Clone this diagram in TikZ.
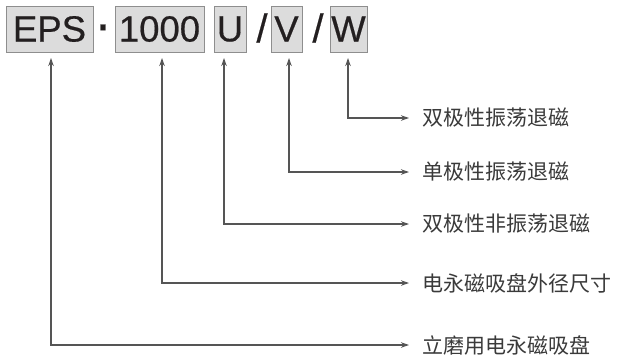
\documentclass[tikz,border=0pt]{standalone}
\usepackage{fontspec}
\setmainfont{Liberation Sans}
\newfontfamily\boxfont[FakeBold=0.5]{Liberation Sans}
\newfontfamily\cjk{Noto Sans CJK SC}
\usetikzlibrary{arrows.meta}
\definecolor{boxgray}{HTML}{DCDCDC}
\definecolor{boxedge}{HTML}{8E8E8E}
\definecolor{ink}{HTML}{231F20}
\definecolor{labelgray}{HTML}{3A3A3A}
\definecolor{linegray}{HTML}{555555}
\begin{document}
\begin{tikzpicture}[x=1pt,y=-1pt,>={Stealth[length=8pt,width=5.5pt]},
  box/.style={draw=boxedge,fill=boxgray,line width=0.9pt,inner sep=0pt,minimum height=46pt,text=ink,font=\boxfont\fontsize{36.5}{36.5}\selectfont},
  sep/.style={inner sep=0pt,text=ink,font=\boxfont\fontsize{40}{40}\selectfont},
  lbl/.style={anchor=west,inner sep=0pt,text=labelgray,font=\cjk\fontsize{21}{21}\selectfont},
  lead/.style={draw=linegray,line width=1.1pt,<->,shorten >=13pt}]
\useasboundingbox(0,0)rectangle(617,360);
% the model code
\node[box,minimum width=87pt](eps)at(49.5,29){EPS};
\node[sep,font=\boxfont\fontsize{52}{52}\selectfont](dot)at(103,33){·};
\node[box,minimum width=89pt](size)at(159.5,29){1000};
\node[box,minimum width=32pt](u)at(230,29){U};
\node[sep](s1)at(262,28){/};
\node[box,minimum width=31pt](v)at(286.5,29){V};
\node[sep](s2)at(318,28){/};
\node[box,minimum width=37pt](w)at(348.5,29){W};
% what each part means
\node[lbl](lW)at(422,118){双极性振荡退磁};
\node[lbl](lV)at(422,172){单极性振荡退磁};
\node[lbl](lU)at(422,224){双极性非振荡退磁};
\node[lbl](lsize)at(422,283){电永磁吸盘外径尺寸};
\node[lbl](leps)at(422,345){立磨用电永磁吸盘};
\coordinate(tW)at(348,58);
\coordinate(tV)at(289,58);
\coordinate(tU)at(224,58);
\coordinate(tsize)at(162,58);
\coordinate(teps)at(51,58);
\draw[lead](tW)|-(lW.west);
\draw[lead](tV)|-(lV.west);
\draw[lead](tU)|-(lU.west);
\draw[lead](tsize)|-(lsize.west);
\draw[lead](teps)|-(leps.west);
\end{tikzpicture}
\end{document}
